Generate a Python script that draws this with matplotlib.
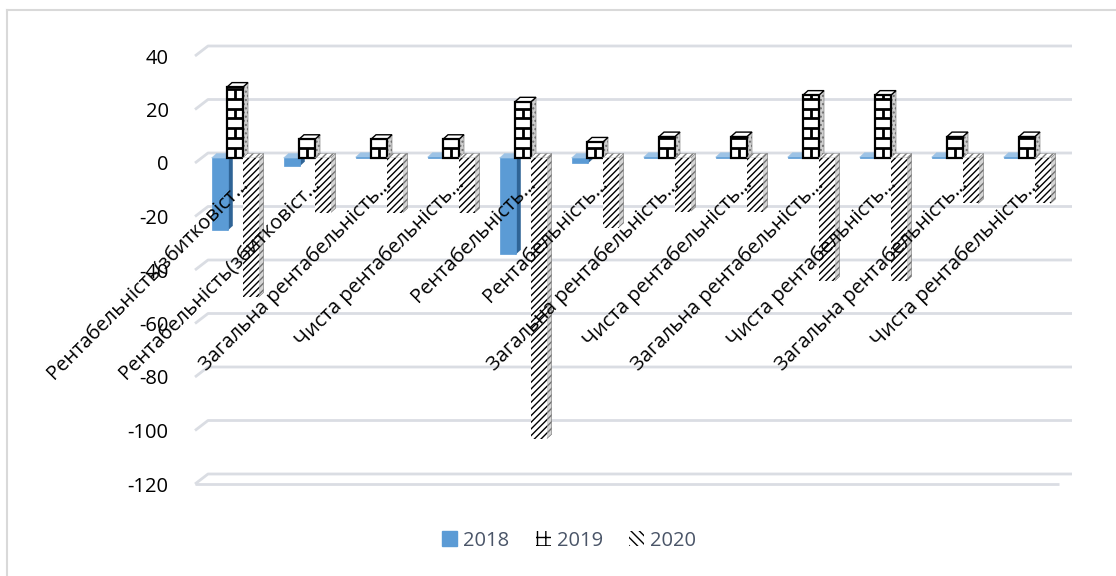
import matplotlib.pyplot as plt
import matplotlib.transforms as mtransforms
from matplotlib.patches import Polygon, Patch
from matplotlib.lines import Line2D
import numpy as np

plt.rcParams['font.family'] = ['Open Sans', 'DejaVu Sans']
plt.rcParams['hatch.linewidth'] = 1.0

# дані діаграми
categories = [
    'Рентабельність(збитковіст…',
    'Рентабельність(збитковіст…',
    'Загальна рентабельність…',
    'Чиста рентабельність…',
    'Рентабельність…',
    'Рентабельність…',
    'Загальна рентабельність…',
    'Чиста рентабельність…',
    'Загальна рентабельність…',
    'Чиста рентабельність…',
    'Загальна рентабельність…',
    'Чиста рентабельність…',
]
years = ['2018', '2019', '2020']
v2018 = [-27, -3, 0.3, 0.3, -36, -2, 0.3, 0.3, 0.3, 0.3, 0.3, 0.3]
v2019 = [26.5, 7, 7, 7, 21, 6, 8, 8, 23.5, 23.5, 8, 8]
v2020 = [-52, -20.5, -20.5, -20.5, -105, -26, -20, -20, -46, -46, -17, -17]
yticks = [40, 20, 0, -20, -40, -60, -80, -100, -120]

W, H = 1116, 576
fig = plt.figure(figsize=(W / 100, H / 100), dpi=100)
ax = fig.add_axes([195 / W, 92 / H, 864 / W, 428 / H])
n = len(categories)
ax.set_xlim(-0.5, n - 0.5)
ax.set_ylim(-120, 40)

px_x = 1 / 72.0      # одиниць категорії на піксель
px_y = 160 / 428.0   # одиниць значення на піксель

# сітка з псевдо-3D ефектом
gdx, gdy = 13 * px_x, 10 * px_y
grid_c = '#dadde3'
for t in yticks:
    ax.plot([-0.5, -0.5 + gdx, n - 0.5 + gdx], [t, t + gdy, t + gdy],
            color=grid_c, lw=2.0, clip_on=False, zorder=0.5,
            solid_capstyle='butt')
ax.plot([-0.5, n - 0.5], [-120, -120], color=grid_c, lw=2.0,
        clip_on=False, zorder=0.5, solid_capstyle='butt')

# стовпчики зміщені на половину глибини
shift = mtransforms.ScaledTranslation(4 / 100, 5 / 100, fig.dpi_scale_trans)
tr = ax.transData + shift

w = 16 * px_x
step = 15.5 * px_x
bdx, bdy = 5 * px_x, 4.5 * px_y
x = np.arange(n)

styles = [
    dict(front='#5B9BD5', fedge='#5B9BD5', hatch=None,
         side='#2F6496', shatch=None, sedge='#2F6496',
         top='#9DC3E6', thatch=None, tedge='#9DC3E6', lw=0.5),
    dict(front='white', fedge='black', hatch=None,
         side='#d0d0d0', shatch='....', sedge='#6f6f6f',
         top='white', thatch=None, tedge='black', lw=1.6),
    dict(front='white', fedge='black', hatch='/////',
         side='#d6d6d6', shatch='/////', sedge='#707070',
         top='white', thatch='/////', tedge='#777777', lw=0),
]

series = [v2018, v2019, v2020]
for k, (vals, st) in enumerate(zip(series, styles)):
    xs = x + (k - 1) * step
    z = 2 + k * 0.2
    for xc, v in zip(xs, vals):
        x0, x1 = xc - w / 2, xc + w / 2
        lo, hi = min(0, v), max(0, v)
        ax.add_patch(Polygon([(x1, lo), (x1 + bdx, lo + bdy), (x1 + bdx, hi + bdy), (x1, hi)],
                             closed=True, facecolor=st['side'], edgecolor=st['sedge'],
                             hatch=st['shatch'], lw=0.4, transform=tr, zorder=z))
        ax.add_patch(Polygon([(x0, hi), (x1, hi), (x1 + bdx, hi + bdy), (x0 + bdx, hi + bdy)],
                             closed=True, facecolor=st['top'], edgecolor=st['tedge'],
                             hatch=st['thatch'], lw=1.0 if k == 1 else 0.3,
                             transform=tr, zorder=z))
    ax.bar(xs, vals, width=w, color=st['front'], edgecolor=st['fedge'],
           hatch=st['hatch'], linewidth=st['lw'], transform=tr, zorder=z + 0.05)

    # цегляний візерунок для 2019
    if k == 1:
        rowh = 3.7
        for xc, v in zip(xs, vals):
            rows = int(v // rowh)
            ys = [rowh * (r + 1) for r in range(rows)]
            ax.hlines(ys, xc - w / 2, xc + w / 2, colors='black', lw=2.0,
                      transform=tr, zorder=z + 0.1)
            for r in range(rows + 1):
                if r % 2 == 0:
                    y0 = rowh * r
                    y1 = min(rowh * (r + 1), v)
                    ax.vlines(xc, y0, y1, colors='black', lw=2.0,
                              transform=tr, zorder=z + 0.1)

# підписи категорій
for i, lab in enumerate(categories):
    ax.text(i + 18 * px_x, -8.2, lab, rotation=45, rotation_mode='anchor',
            ha='right', va='baseline', fontsize=14.5, color='black', zorder=10)

ax.set_xticks([])
ax.set_yticks(yticks)
ax.set_yticklabels([str(t) for t in yticks])
ax.tick_params(axis='y', length=0, pad=19, labelsize=14.5)
for s in ax.spines.values():
    s.set_visible(False)
ax.patch.set_alpha(0)

# легенда
handles = [
    Patch(facecolor='#5B9BD5', edgecolor='#5B9BD5'),
    Patch(facecolor='white', edgecolor='black', hatch='++', lw=0),
    Patch(facecolor='white', edgecolor='black', hatch='\\\\\\\\', lw=0),
]
fig.legend(handles, years, loc='center', bbox_to_anchor=(0.510, 0.061),
           ncol=3, frameon=False, fontsize=14.5, handlelength=0.75,
           handleheight=0.75, handletextpad=0.3, columnspacing=1.3,
           labelcolor='#4a5568')

# рамка
fig.add_artist(Line2D([7 / W, 1], [1 - 10 / H, 1 - 10 / H], color='#d9d9d9', lw=1.5))
fig.add_artist(Line2D([7 / W, 7 / W], [0, 1 - 10 / H], color='#d9d9d9', lw=1.5))

fig.savefig('out.png', dpi=100, facecolor='white')
